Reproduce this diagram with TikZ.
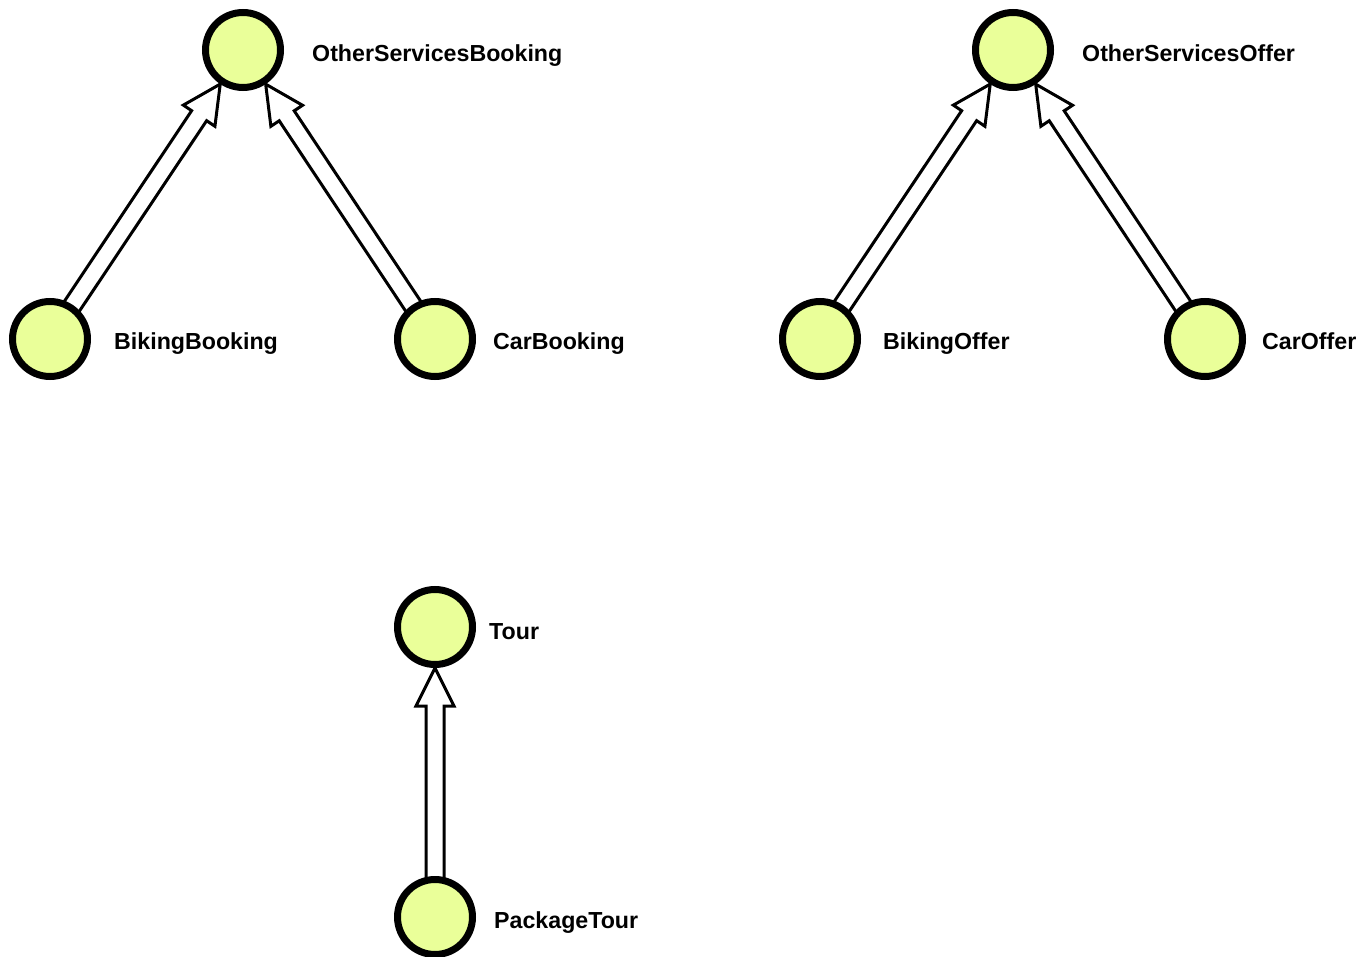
\documentclass[tikz,border=0pt]{standalone}
\usepackage{fontspec}
\setmainfont{Liberation Sans}
\usetikzlibrary{calc}
\definecolor{nodefill}{RGB}{234,255,153}
\tikzset{
  cls/.style={circle, draw=black, line width=7pt, fill=nodefill, inner sep=0pt, minimum size=75pt},
  lbl/.style={anchor=base west, inner sep=0pt, font=\fontsize{23.2}{27}\selectfont\bfseries},
  inharr/.style={draw=black, fill=white, line width=3pt, line join=miter},
}
\newcommand\inheritarrow[2]{%
  \coordinate (tt) at ($(#2)!41pt!(#1)$);
  \coordinate (hh) at ($(#2)!79pt!(#1)$);
  \coordinate (ss) at ($(#1)!36pt!(#2)$);
  \draw[inharr] ($(ss)!9pt!90:(tt)$) -- ($(hh)!9pt!90:(tt)$) -- ($(hh)!19pt!90:(tt)$) -- (tt)
     -- ($(hh)!19pt!-90:(tt)$) -- ($(hh)!9pt!-90:(tt)$) -- ($(ss)!9pt!-90:(tt)$) -- cycle;
}
\begin{document}
\begin{tikzpicture}[x=1pt,y=-1pt]
\useasboundingbox (0,0) rectangle (1371,957);
\coordinate (OSB) at (243,50);
\coordinate (BB) at (50,339);
\coordinate (CB) at (435,339);
\coordinate (OSO) at (1013,50);
\coordinate (BO) at (820,339);
\coordinate (CO) at (1205,339);
\coordinate (T) at (435,627);
\coordinate (PT) at (435,917);
\inheritarrow{BB}{OSB}
\inheritarrow{CB}{OSB}
\inheritarrow{BO}{OSO}
\inheritarrow{CO}{OSO}
\inheritarrow{PT}{T}
\node[cls] (nOSB) at (OSB) {};
\node[cls] (nBB) at (BB) {};
\node[cls] (nCB) at (CB) {};
\node[cls] (nOSO) at (OSO) {};
\node[cls] (nBO) at (BO) {};
\node[cls] (nCO) at (CO) {};
\node[cls] (nT) at (T) {};
\node[cls] (nPT) at (PT) {};
\node[lbl] (lOSB) at (312,62) {OtherServicesBooking};
\node[lbl] (lBB) at (114,350) {BikingBooking};
\node[lbl] (lCB) at (493,350) {CarBooking};
\node[lbl] (lOSO) at (1082,62) {OtherServicesOffer};
\node[lbl] (lBO) at (883,350) {BikingOffer};
\node[lbl] (lCO) at (1262,350) {CarOffer};
\node[lbl] (lT) at (489,639) {Tour};
\node[lbl] (lPT) at (494,928) {PackageTour};
\end{tikzpicture}
\end{document}
